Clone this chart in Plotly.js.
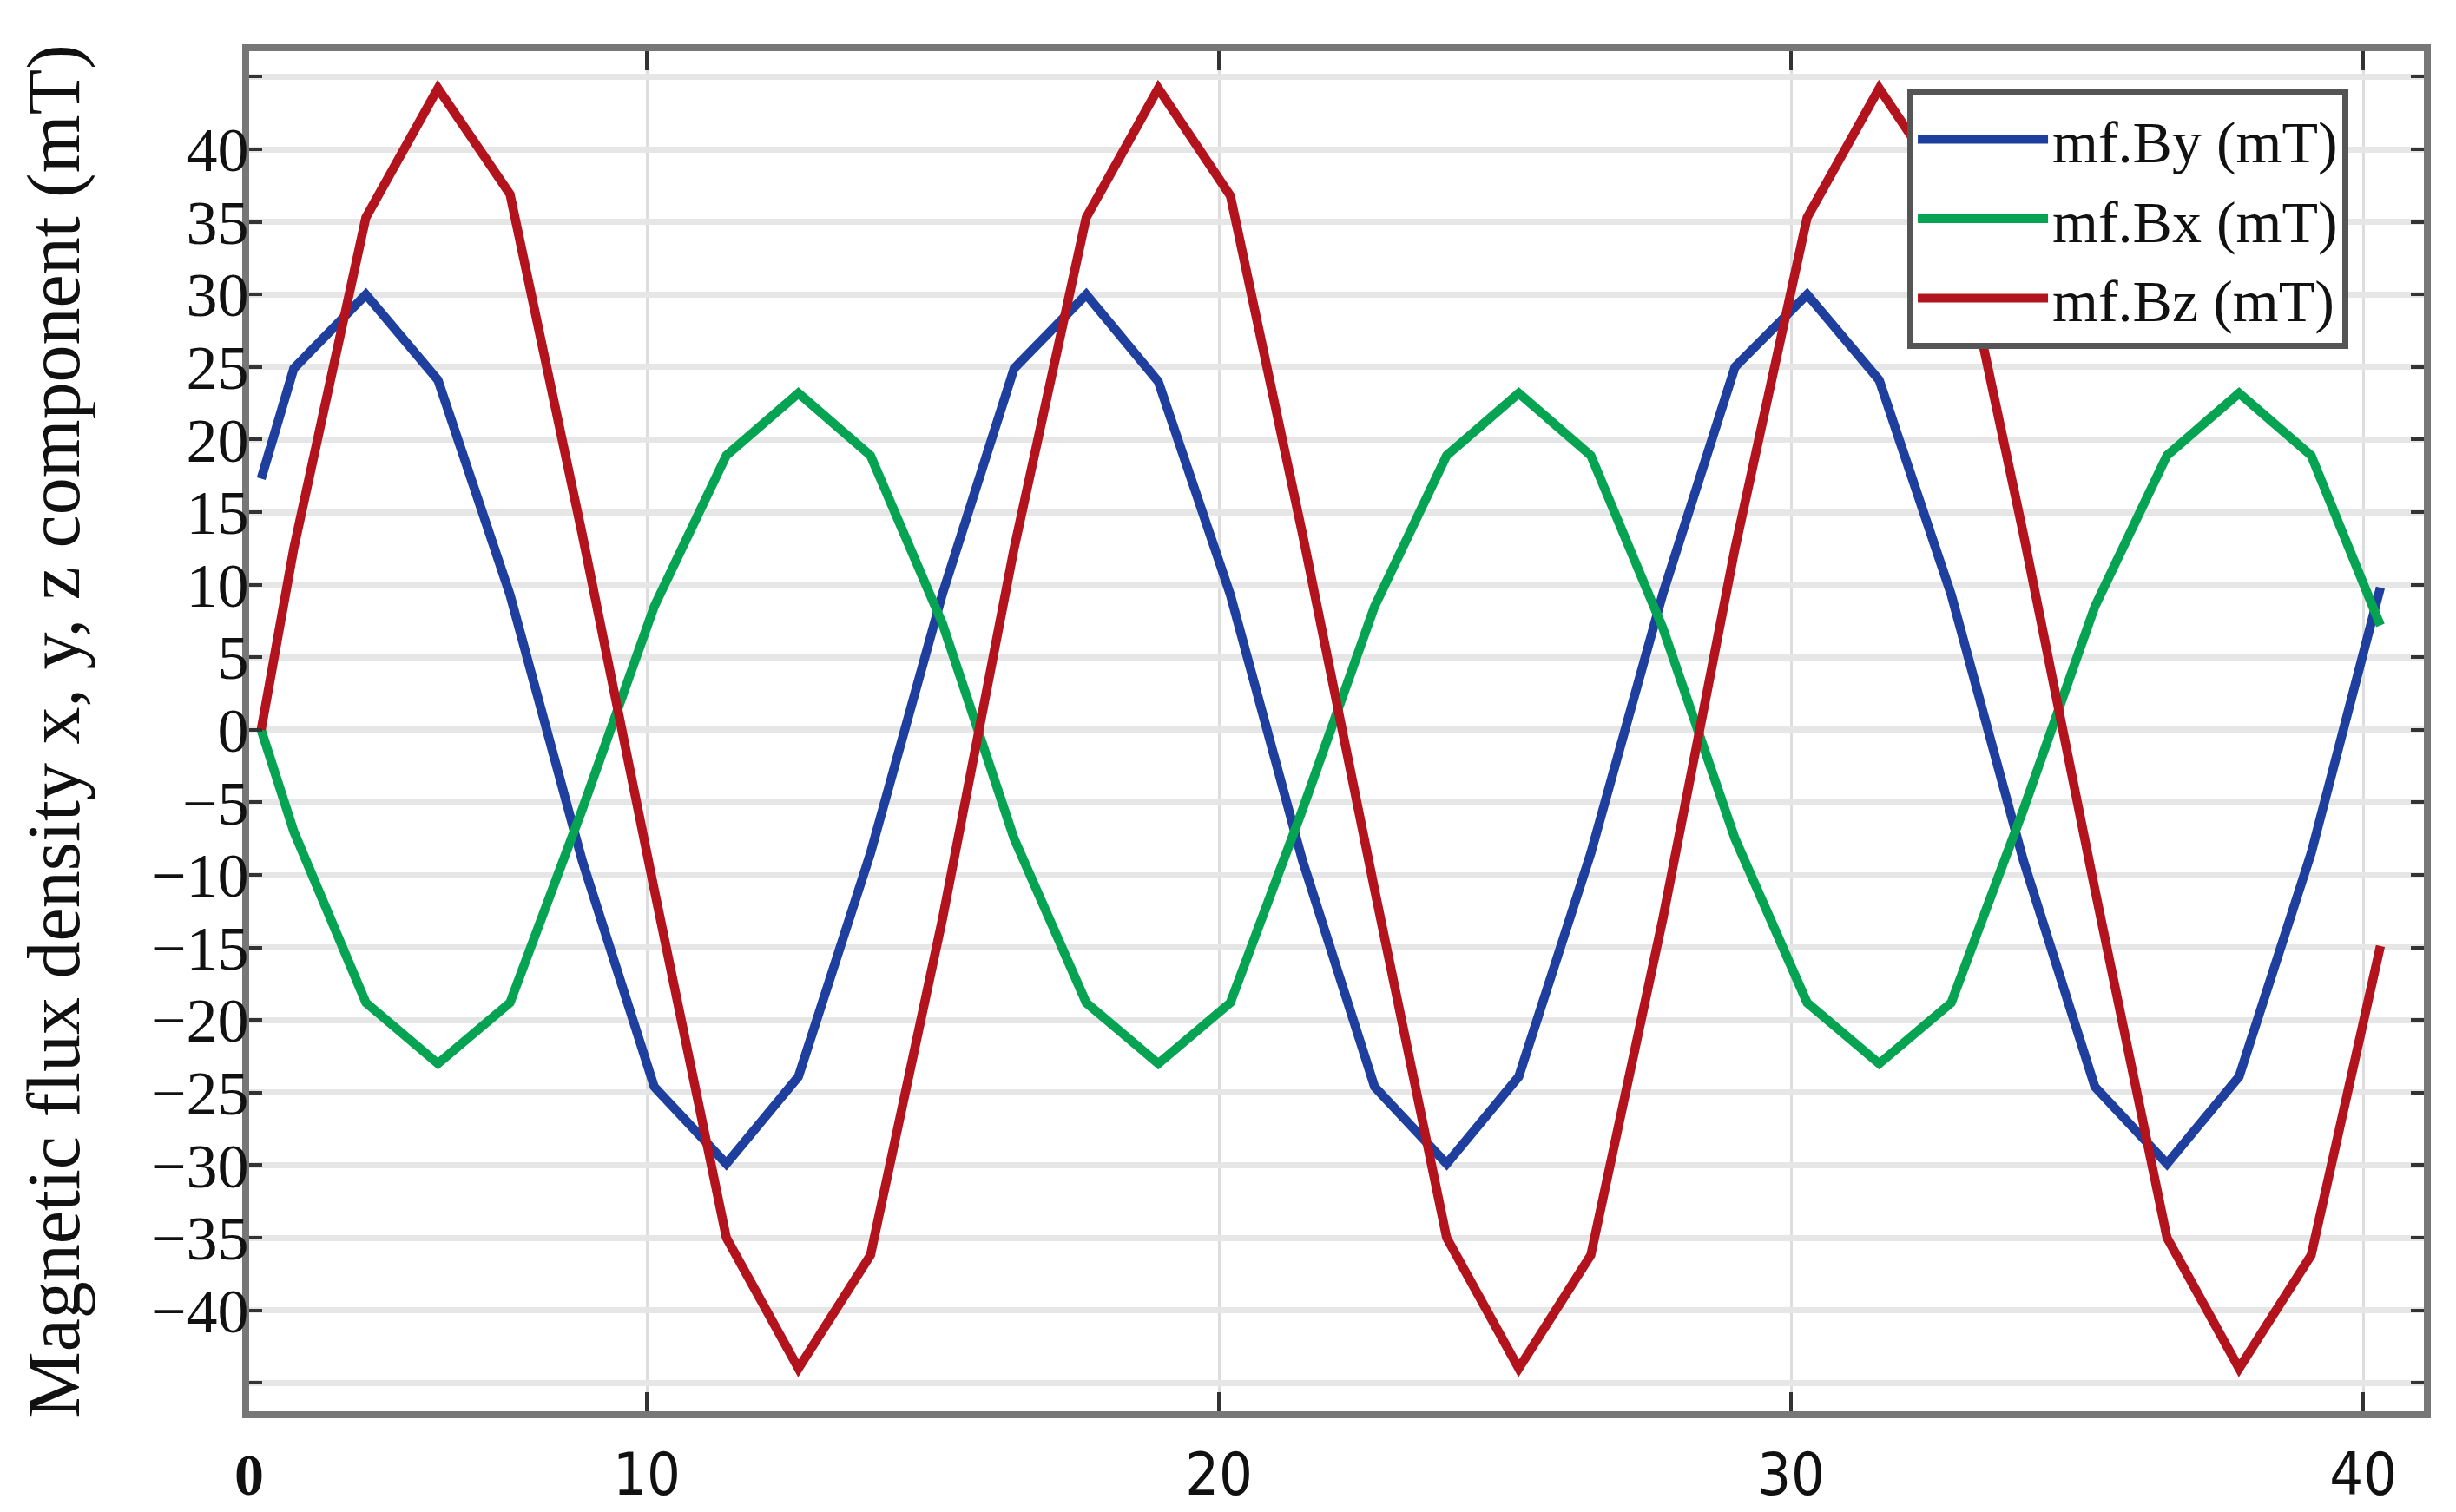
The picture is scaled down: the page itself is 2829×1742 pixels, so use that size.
<!DOCTYPE html>
<html>
<head>
<meta charset="utf-8">
<script src="https://cdn.plot.ly/plotly-3.0.1.min.js"></script>
<style>
  html, body { margin: 0; padding: 0; background: #ffffff; }
  #chart { width: 2829px; height: 1742px; }
</style>
</head>
<body>
<div id="chart"></div>
<script>
// ---- data (x in axis units, y in mT) ----
const xPos = [3.26, 3.83, 5.09, 6.35, 7.61, 8.87, 10.13, 11.39, 12.65, 13.91, 15.17, 16.42, 17.68, 18.94, 20.20,
              21.46, 22.72, 23.98, 25.24, 26.50, 27.76, 29.02, 30.28, 31.54, 32.80, 34.06, 35.31, 36.57, 37.83, 39.09, 40.30];

const byVals = [17.3, 24.9, 30.0, 24.1, 9.3, -9.0, -24.6, -29.9, -23.9, -8.5, 9.4, 24.9, 30.0, 24.0, 9.3,
                -9.0, -24.6, -29.9, -23.9, -8.5, 9.4, 25.0, 30.0, 24.1, 9.3, -9.0, -24.6, -29.9, -23.9, -8.5, 9.8];

const bxVals = [0.0, -7.0, -18.8, -23.0, -18.8, -5.5, 8.5, 18.9, 23.2, 18.9, 7.3, -7.5, -18.8, -23.0, -18.8,
                -5.5, 8.5, 18.9, 23.2, 18.9, 7.0, -7.5, -18.8, -23.0, -18.8, -5.5, 8.5, 18.9, 23.2, 18.9, 7.2];

const bzVals = [0.0, 12.5, 35.3, 44.2, 36.9, 13.5, -11.0, -35.0, -44.0, -36.2, -13.0, 12.5, 35.3, 44.2, 36.8,
                13.5, -11.0, -35.0, -44.0, -36.2, -13.0, 12.5, 35.3, 44.2, 36.8, 13.5, -11.0, -35.0, -44.0, -36.2, -14.9];

const seriesNames = ['mf.By (mT)', 'mf.Bx (mT)', 'mf.Bz (mT)'];

const xTickVals = [3.05, 10, 20, 30, 40];
const xTickText = ['<span style="font-family:Liberation Serif;font-weight:bold">0</span>', '10', '20', '30', '40'];

const yTickVals = [-45, -40, -35, -30, -25, -20, -15, -10, -5, 0, 5, 10, 15, 20, 25, 30, 35, 40, 45];
const yTickText = ['', '\u221240', '\u221235', '\u221230', '\u221225', '\u221220', '\u221215', '\u221210', '\u22125',
                   '0', '5', '10', '15', '20', '25', '30', '35', '40', ''];

const yTitle = 'Magnetic flux density x, y, z component (mT)';

// ---- styling ----
const colors = ['#1f3f9e', '#05a352', '#b3131d'];
const seriesVals = [byVals, bxVals, bzVals];

const traces = seriesVals.map((vals, i) => ({
  type: 'scatter',
  mode: 'lines',
  x: xPos,
  y: vals,
  name: seriesNames[i],
  line: { color: colors[i], width: 10.5 },
  hoverinfo: 'skip'
}));

const layout = {
  width: 2829,
  height: 1742,
  paper_bgcolor: '#ffffff',
  plot_bgcolor: '#ffffff',
  margin: { l: 287, r: 37, t: 59, b: 116, pad: 0 },
  showlegend: true,
  legend: {
    x: 0.7625, y: 0.972, xanchor: 'left', yanchor: 'top',
    bgcolor: '#ffffff',
    bordercolor: '#555555',
    borderwidth: 7,
    font: { family: 'Liberation Serif, Times New Roman, serif', size: 68, color: '#111111' },
    itemwidth: 150,
    tracegroupgap: 0
  },
  xaxis: {
    range: [3.05, 41.06],
    tickmode: 'array',
    tickvals: xTickVals,
    ticktext: xTickText,
    showgrid: true,
    gridcolor: '#dddddd',
    gridwidth: 3,
    zeroline: false,
    showline: true,
    linecolor: '#777777',
    linewidth: 8,
    mirror: 'allticks',
    ticks: 'inside',
    ticklen: 22,
    tickwidth: 4,
    tickcolor: '#333333',
    ticklabelstandoff: 6,
    tickfont: { family: 'Liberation Sans Narrow, DejaVu Sans Condensed, Arial Narrow, sans-serif', size: 68, color: '#111111' }
  },
  yaxis: {
    range: [-46.96, 46.76],
    tickmode: 'array',
    tickvals: yTickVals,
    ticktext: yTickText,
    showgrid: true,
    gridcolor: '#e6e6e6',
    gridwidth: 7,
    zeroline: false,
    showline: true,
    linecolor: '#777777',
    linewidth: 8,
    mirror: 'allticks',
    ticks: 'inside',
    ticklen: 15,
    tickwidth: 4,
    tickcolor: '#333333',
    ticklabelstandoff: -22,
    tickfont: { family: 'Liberation Serif, Times New Roman, serif', size: 72, color: '#111111' },
    title: {
      text: yTitle,
      font: { family: 'Liberation Serif, Times New Roman, serif', size: 86, color: '#111111' },
      standoff: 57
    },
    automargin: false
  }
};

Plotly.newPlot('chart', traces, layout, { staticPlot: true, displayModeBar: false });
</script>
</body>
</html>
